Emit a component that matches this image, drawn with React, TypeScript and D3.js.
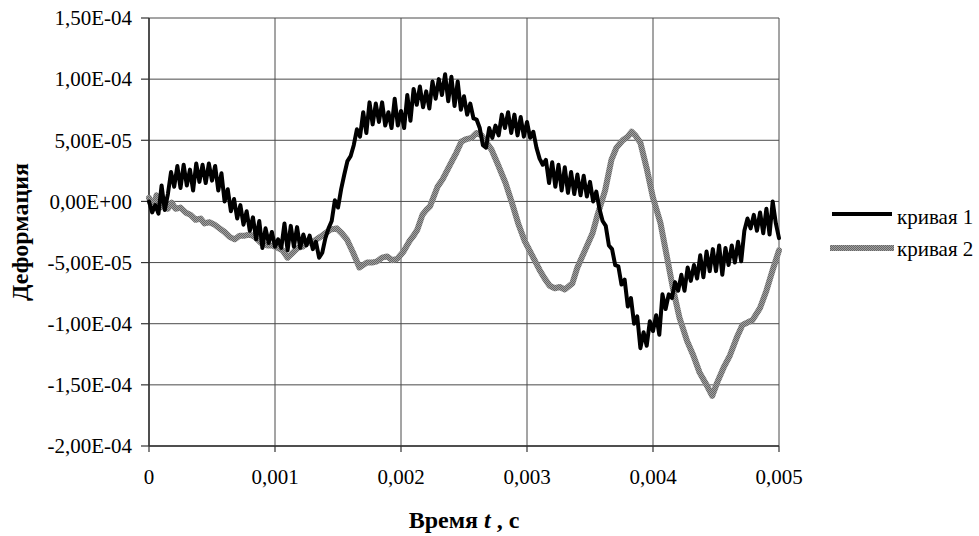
import React from "react";
import * as d3 from "d3";

// Axis ticks and labels
const X_TICKS = [0, 0.001, 0.002, 0.003, 0.004, 0.005];
const X_TICK_LABELS = ["0", "0,001", "0,002", "0,003", "0,004", "0,005"];
const Y_TICKS = [1.5e-4, 1e-4, 5e-5, 0, -5e-5, -1e-4, -1.5e-4, -2e-4];
const Y_TICK_LABELS = ["1,50E-04", "1,00E-04", "5,00E-05", "0,00E+00", "-5,00E-05", "-1,00E-04", "-1,50E-04", "-2,00E-04"];
const SERIES_NAMES = ["кривая 1", "кривая 2"];
const X_TITLE = "Время";
const Y_TITLE = "Деформация";

// кривая 1: [time, ms ; strain, ×1E-05]
const curve1: [number, number][] = [
  [0.000, 0.0], [0.025, -0.9], [0.050, -0.3], [0.075, -1.0], [0.100, 1.3], [0.125, -0.7], [0.150, 0.6], [0.175, 2.4],
  [0.200, 1.2], [0.225, 2.9], [0.250, 1.1], [0.275, 3.0], [0.300, 1.3], [0.325, 2.6], [0.350, 0.9], [0.375, 3.1],
  [0.400, 1.6], [0.425, 3.0], [0.450, 1.5], [0.475, 3.1], [0.500, 1.7], [0.525, 2.9], [0.550, 0.9], [0.575, 2.3],
  [0.600, 0.0], [0.625, 1.0], [0.650, -0.8], [0.675, 0.2], [0.700, -1.4], [0.725, -0.3], [0.750, -1.9], [0.775, -0.8],
  [0.800, -2.4], [0.825, -1.3], [0.850, -3.1], [0.875, -1.6], [0.900, -3.8], [0.925, -2.2], [0.950, -3.4], [0.975, -2.5],
  [1.000, -3.7], [1.025, -3.1], [1.050, -3.8], [1.075, -1.8], [1.100, -4.0], [1.125, -2.0], [1.150, -3.7], [1.175, -2.1],
  [1.200, -3.8], [1.225, -2.7], [1.250, -3.6], [1.275, -2.8], [1.300, -3.9], [1.325, -3.3], [1.350, -4.6], [1.375, -4.2],
  [1.400, -3.0], [1.425, -2.2], [1.450, -1.6], [1.475, 0.1], [1.500, -0.5], [1.525, 1.0], [1.550, 2.2], [1.575, 3.3],
  [1.600, 3.7], [1.625, 4.6], [1.650, 5.9], [1.675, 5.3], [1.700, 7.3], [1.725, 5.6], [1.750, 8.1], [1.775, 6.3],
  [1.800, 8.0], [1.825, 6.5], [1.850, 8.1], [1.875, 6.2], [1.900, 7.3], [1.925, 6.0], [1.950, 8.4], [1.975, 6.2],
  [2.000, 7.4], [2.025, 6.0], [2.050, 8.7], [2.075, 6.6], [2.100, 9.2], [2.125, 7.9], [2.150, 9.4], [2.175, 7.7],
  [2.200, 9.0], [2.225, 7.6], [2.250, 9.8], [2.275, 8.4], [2.300, 10.0], [2.325, 8.7], [2.350, 10.4], [2.375, 8.2],
  [2.400, 10.2], [2.425, 7.8], [2.450, 9.8], [2.475, 7.5], [2.500, 8.6], [2.525, 7.1], [2.550, 8.0], [2.575, 6.8],
  [2.600, 6.7], [2.625, 6.0], [2.650, 4.6], [2.675, 4.4], [2.700, 6.0], [2.725, 5.2], [2.750, 6.2], [2.775, 5.4],
  [2.800, 7.1], [2.825, 6.0], [2.850, 7.3], [2.875, 5.6], [2.900, 7.1], [2.925, 5.4], [2.950, 6.9], [2.975, 5.3],
  [3.000, 6.5], [3.025, 5.2], [3.050, 5.7], [3.075, 4.4], [3.100, 3.5], [3.125, 3.0], [3.150, 3.4], [3.175, 1.5],
  [3.200, 3.2], [3.225, 1.2], [3.250, 3.0], [3.275, 0.9], [3.300, 2.8], [3.325, 0.7], [3.350, 2.4], [3.375, 0.6],
  [3.400, 2.2], [3.425, 0.5], [3.450, 2.1], [3.475, 0.4], [3.500, 1.6], [3.525, 0.0], [3.550, 0.8], [3.575, -0.6],
  [3.600, -1.6], [3.625, -2.0], [3.650, -3.6], [3.675, -3.9], [3.700, -5.2], [3.725, -5.3], [3.750, -6.8], [3.775, -6.4],
  [3.800, -8.6], [3.825, -7.9], [3.850, -10.0], [3.875, -9.4], [3.900, -12.0], [3.925, -10.7], [3.950, -11.8], [3.975, -9.8],
  [4.000, -10.6], [4.025, -9.3], [4.050, -10.9], [4.075, -7.6], [4.100, -8.8], [4.125, -7.6], [4.150, -7.9], [4.175, -6.6],
  [4.200, -7.3], [4.225, -6.0], [4.250, -7.3], [4.275, -5.4], [4.300, -6.5], [4.325, -5.2], [4.350, -6.3], [4.375, -4.4],
  [4.400, -6.2], [4.425, -4.1], [4.450, -5.7], [4.475, -3.9], [4.500, -5.7], [4.525, -3.6], [4.550, -6.0], [4.575, -3.8],
  [4.600, -5.2], [4.625, -3.6], [4.650, -5.0], [4.675, -3.3], [4.700, -4.9], [4.725, -2.4], [4.750, -1.4], [4.775, -2.2],
  [4.800, -1.1], [4.825, -2.4], [4.850, -0.9], [4.875, -2.6], [4.900, -0.6], [4.925, -2.7], [4.950, 0.0], [4.975, -1.8],
  [5.000, -3.0],
];

// кривая 2: [time, ms ; strain, ×1E-05]
const curve2: [number, number][] = [
  [0.00, 0.3], [0.03, -0.6], [0.06, 0.5], [0.09, -0.5], [0.12, 0.2], [0.15, -0.6], [0.18, -0.1], [0.21, -0.6],
  [0.25, -0.5], [0.29, -0.9], [0.33, -1.1], [0.37, -1.5], [0.41, -1.4], [0.44, -1.8], [0.48, -1.7], [0.52, -1.9],
  [0.56, -2.2], [0.60, -2.5], [0.64, -2.9], [0.68, -3.1], [0.72, -2.8], [0.76, -2.8], [0.80, -2.7], [0.84, -2.9],
  [0.89, -3.4], [0.94, -3.6], [0.98, -3.6], [1.02, -3.8], [1.06, -4.0], [1.10, -4.6], [1.14, -4.2], [1.18, -3.8],
  [1.22, -3.7], [1.25, -3.4], [1.30, -3.3], [1.36, -2.9], [1.40, -2.6], [1.44, -2.3], [1.49, -2.2], [1.53, -2.6],
  [1.57, -3.1], [1.62, -4.2], [1.67, -5.4], [1.70, -5.2], [1.73, -5.0], [1.77, -5.0], [1.81, -4.9], [1.85, -4.6],
  [1.89, -4.5], [1.93, -4.8], [1.97, -4.7], [2.02, -4.1], [2.07, -3.2], [2.10, -2.8], [2.13, -2.3], [2.17, -1.1],
  [2.20, -0.7], [2.23, -0.4], [2.29, 1.2], [2.33, 1.8], [2.39, 3.0], [2.44, 4.0], [2.48, 4.9], [2.52, 5.1],
  [2.56, 5.2], [2.60, 5.6], [2.64, 5.4], [2.68, 4.8], [2.72, 4.2], [2.77, 3.0], [2.83, 1.5], [2.88, -0.1],
  [2.93, -1.8], [2.98, -3.2], [3.02, -4.0], [3.06, -4.8], [3.10, -5.6], [3.14, -6.3], [3.18, -6.9], [3.22, -7.1],
  [3.26, -7.0], [3.30, -7.2], [3.36, -6.7], [3.40, -5.4], [3.46, -4.0], [3.52, -2.6], [3.56, -1.1], [3.62, 0.9],
  [3.67, 3.4], [3.71, 4.4], [3.76, 5.0], [3.80, 5.3], [3.83, 5.7], [3.86, 5.4], [3.90, 4.8], [3.95, 2.7],
  [4.00, 0.3], [4.06, -1.8], [4.11, -4.5], [4.16, -7.2], [4.21, -9.5], [4.27, -11.4], [4.32, -12.6], [4.37, -14.0],
  [4.43, -15.1], [4.47, -15.9], [4.51, -14.8], [4.56, -13.6], [4.61, -12.6], [4.67, -11.0], [4.71, -10.1], [4.75, -9.9],
  [4.79, -9.7], [4.85, -8.7], [4.90, -7.3], [4.95, -5.6], [5.00, -4.0],
];

type Pt = { t: number; v: number };
const toSeconds = (arr: [number, number][]): Pt[] => arr.map(([t, v]) => ({ t: t * 1e-3, v: v * 1e-5 }));

const FONT = "Liberation Serif, Tinos, Times New Roman, Times, Nimbus Roman, DejaVu Serif, serif";

export default function App() {
  const W = 979;
  const H = 536;
  const left = 149, right = 779, top = 18, bottom = 446;
  const x = d3.scaleLinear().domain([0, 0.005]).range([left, right]);
  const y = d3.scaleLinear().domain([-2e-4, 1.5e-4]).range([bottom, top]);
  const line = d3.line<Pt>().x((d) => x(d.t)).y((d) => y(d.v));
  const d1 = line(toSeconds(curve1)) || "";
  const d2 = line(toSeconds(curve2)) || "";

  const textStyle: React.CSSProperties = { fontFamily: FONT };

  return (
    <div style={{ position: "absolute", left: 0, top: 0 }}>
      <svg width={W} height={H} style={{ display: "block", background: "#fff" }}>
        <defs>
          <pattern id="dither" width="2" height="2" patternUnits="userSpaceOnUse">
            <rect width="2" height="2" fill="#a0a0a0" />
            <rect x="0" y="0" width="1" height="1" fill="#666" />
            <rect x="1" y="1" width="1" height="1" fill="#666" />
          </pattern>
        </defs>

        {/* gridlines */}
        {Y_TICKS.map((v, i) => (
          <line key={"gy" + i} x1={left} x2={right} y1={y(v)} y2={y(v)} stroke="#4a4a4a" strokeWidth={1} />
        ))}
        {X_TICKS.map((v, i) => (
          <line key={"gx" + i} x1={x(v)} x2={x(v)} y1={top} y2={bottom} stroke="#4a4a4a" strokeWidth={1} />
        ))}

        {/* axes */}
        <line x1={left} x2={left} y1={top} y2={bottom} stroke="#333" strokeWidth={1.5} />
        <line x1={left} x2={right} y1={bottom} y2={bottom} stroke="#333" strokeWidth={1.5} />
        {Y_TICKS.map((v, i) => (
          <g key={"ty" + i}>
            <line x1={left - 8} x2={left} y1={y(v)} y2={y(v)} stroke="#333" strokeWidth={1.2} />
            <text x={132} y={y(v)} dy="0.35em" textAnchor="end" style={textStyle} fontSize={21} fill="#000">
              {Y_TICK_LABELS[i]}
            </text>
          </g>
        ))}
        {X_TICKS.map((v, i) => (
          <g key={"tx" + i}>
            <line x1={x(v)} x2={x(v)} y1={bottom} y2={bottom + 6} stroke="#333" strokeWidth={1.2} />
            <text x={x(v)} y={484} textAnchor="middle" style={textStyle} fontSize={21} fill="#000">
              {X_TICK_LABELS[i]}
            </text>
          </g>
        ))}

        {/* series */}
        <path d={d2} fill="none" stroke="url(#dither)" strokeWidth={6} strokeLinejoin="round" strokeLinecap="round" />
        <path d={d1} fill="none" stroke="#000" strokeWidth={4} strokeLinejoin="round" strokeLinecap="round" />

        {/* axis titles */}
        <text x={(left + right) / 2} y={528} textAnchor="middle" style={textStyle} fontSize={24} fontWeight="bold" fill="#000">
          {X_TITLE} <tspan fontStyle="italic">t</tspan> , с
        </text>
        <text
          transform={`translate(28, ${(top + bottom) / 2}) rotate(-90)`}
          textAnchor="middle"
          style={textStyle}
          fontSize={24}
          fontWeight="bold"
          fill="#000"
        >
          {Y_TITLE}
        </text>

        {/* legend */}
        <line x1={832} x2={892} y1={214} y2={214} stroke="#000" strokeWidth={4} />
        <text x={897} y={224} style={textStyle} fontSize={21} fill="#000">{SERIES_NAMES[0]}</text>
        <line x1={830} x2={894} y1={248} y2={248} stroke="url(#dither)" strokeWidth={6} />
        <text x={897} y={256} style={textStyle} fontSize={21} fill="#000">{SERIES_NAMES[1]}</text>
      </svg>
    </div>
  );
}
